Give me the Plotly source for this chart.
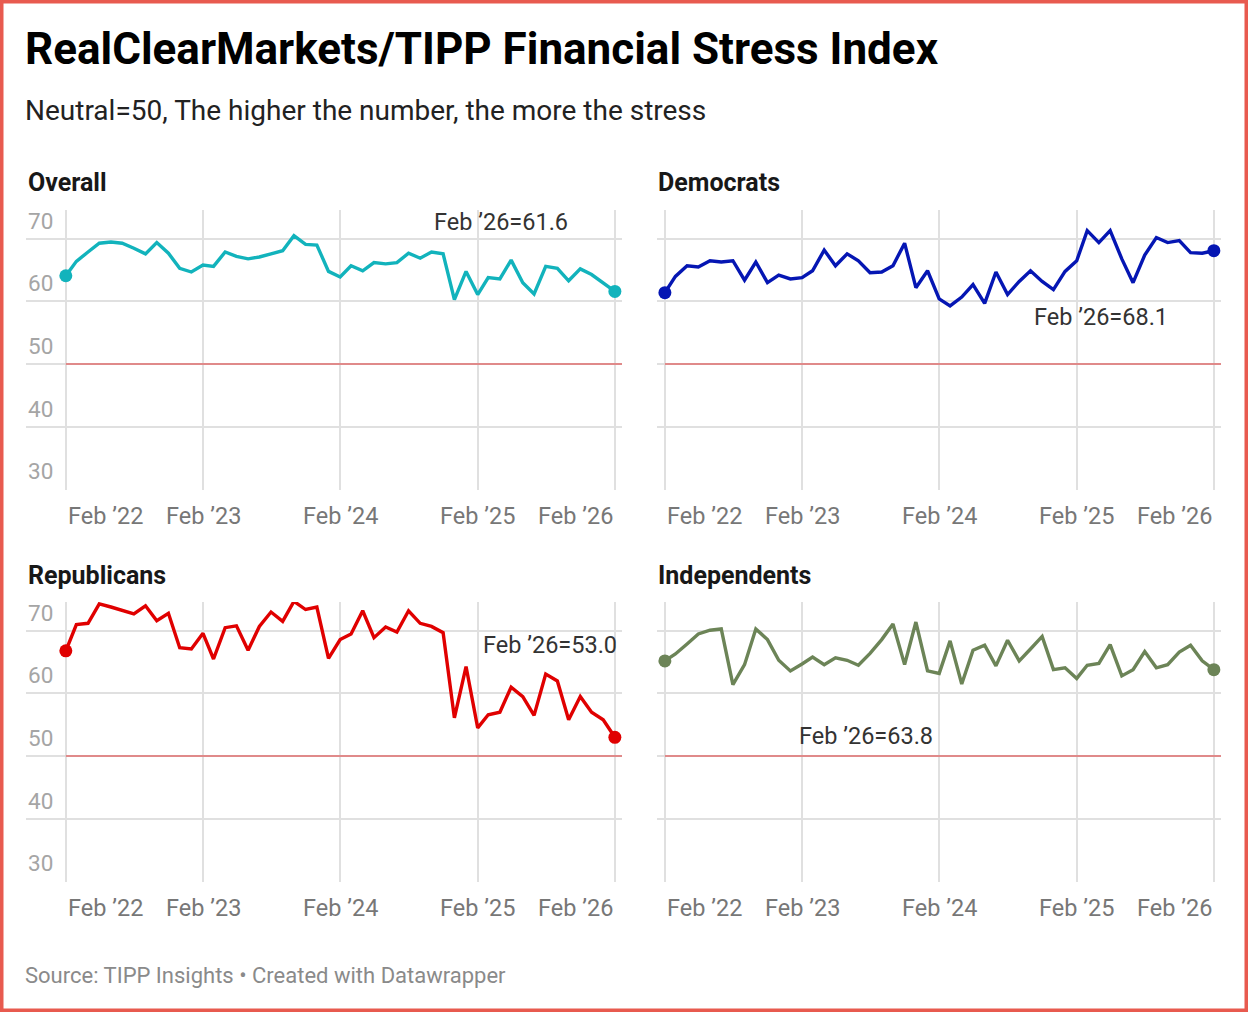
import pandas as pd
import plotly.graph_objects as go

# ---------------- data ----------------
months = pd.date_range("2022-02-01", periods=49, freq="MS")

overall = [64.1, 66.4, 67.9, 69.3, 69.5, 69.3, 68.5, 67.6, 69.4, 67.7,
           65.3, 64.7, 65.8, 65.6, 67.9, 67.2, 66.8, 67.1, 67.6, 68.1,
           70.5, 69.1, 69.0, 64.8, 63.9, 65.7, 64.9, 66.2, 66.0, 66.2,
           67.7, 66.9, 67.9, 67.6, 60.3, 64.8, 61.1, 63.8, 63.6, 66.6,
           63.0, 61.2, 65.6, 65.3, 63.3, 65.2, 64.3, 62.9, 61.6]

democrats = [61.4, 64.0, 65.7, 65.5, 66.5, 66.3, 66.5, 63.4, 66.3, 63.0,
             64.2, 63.6, 63.8, 64.9, 68.2, 65.7, 67.6, 66.5, 64.6, 64.7,
             65.7, 69.3, 62.2, 64.9, 60.4, 59.3, 60.7, 62.7, 59.7, 64.7,
             61.1, 63.2, 64.9, 63.2, 61.9, 64.8, 66.5, 71.3, 69.4, 71.3,
             66.8, 63.0, 67.4, 70.2, 69.4, 69.7, 67.8, 67.7, 68.1]

republicans = [66.8, 71.0, 71.2, 74.3, 73.8, 73.2, 72.7, 74.0, 71.6, 72.8,
               67.3, 67.1, 69.6, 65.5, 70.5, 70.8, 66.9, 70.7, 73.0, 71.5,
               74.7, 73.4, 73.8, 65.6, 68.6, 69.5, 73.2, 68.9, 70.6, 69.8,
               73.2, 71.2, 70.7, 69.7, 56.1, 64.3, 54.5, 56.6, 57.0, 61.0,
               59.5, 56.5, 63.1, 62.0, 55.8, 59.5, 57.0, 55.8, 53.0]

independents = [65.2, 66.3, 67.9, 69.5, 70.1, 70.3, 61.4, 64.6, 70.3, 68.6,
                65.3, 63.6, 64.7, 65.8, 64.6, 65.7, 65.3, 64.5, 66.4, 68.6,
                71.1, 64.6, 71.4, 63.6, 63.2, 68.4, 61.5, 66.9, 67.7, 64.4,
                68.5, 65.2, 67.1, 69.1, 63.8, 64.1, 62.4, 64.5, 64.8, 67.8,
                62.8, 63.8, 66.7, 64.1, 64.6, 66.6, 67.7, 65.2, 63.8]

panel_names = ["Overall", "Democrats", "Republicans", "Independents"]
panel_values = [overall, democrats, republicans, independents]
panel_colors = ["#12b3bc", "#0516b3", "#e00000", "#6c8457"]

y_ticks = [30, 40, 50, 60, 70]
x_tick_dates = ["2022-02-01", "2023-02-01", "2024-02-01", "2025-02-01", "2026-02-01"]
x_tick_labels = ["Feb \u201922", "Feb \u201923", "Feb \u201924", "Feb \u201925", "Feb \u201926"]
neutral = 50

title = "RealClearMarkets/TIPP Financial Stress Index"
subtitle = "Neutral=50, The higher the number, the more the stress"
source = "Source: TIPP Insights \u2022 Created with Datawrapper"

# ---------------- layout helpers ----------------
W, H = 1248, 1012
FONT = "Roboto"


def fx(px):
    return px / W


def fy(py):
    return 1 - py / H


# pixel boxes of each panel's plot area: (left, right, top, bottom)
boxes = [(26, 622, 210, 490), (657, 1221, 210, 490),
         (26, 622, 602, 882), (657, 1221, 602, 882)]
x_ranges = [["2021-10-18", "2026-02-20"], ["2022-01-11", "2026-02-20"],
            ["2021-10-18", "2026-02-20"], ["2022-01-11", "2026-02-20"]]
y_range = [29.9, 74.6]
title_pos = [(26, 183), (656, 183), (26, 575), (656, 575)]
label_pos = [(501, 222), (1101, 317), (550, 645), (866, 736)]

fig = go.Figure()
annotations = []
shapes = []

for i, (name, vals, col) in enumerate(zip(panel_names, panel_values, panel_colors)):
    n = "" if i == 0 else str(i + 1)
    xa, ya = "x" + n, "y" + n
    l, r, t, b = boxes[i]

    fig.add_trace(go.Scatter(x=months, y=vals, mode="lines",
                             line=dict(color=col, width=3.4),
                             xaxis=xa, yaxis=ya, hoverinfo="skip",
                             showlegend=False))
    fig.add_trace(go.Scatter(x=[months[0], months[-1]], y=[vals[0], vals[-1]],
                             mode="markers", marker=dict(color=col, size=13),
                             xaxis=xa, yaxis=ya, hoverinfo="skip",
                             showlegend=False))

    fig.layout["xaxis" + n] = dict(
        domain=[fx(l), fx(r)], range=x_ranges[i], type="date",
        anchor=ya, tickvals=x_tick_dates, showticklabels=False,
        showgrid=True, gridcolor="#e0e0e0", gridwidth=1.5,
        zeroline=False, showline=False, ticks="", fixedrange=True)
    fig.layout["yaxis" + n] = dict(
        domain=[fy(b), fy(t)], range=y_range, anchor=xa,
        tickvals=y_ticks, showticklabels=False,
        showgrid=True, gridcolor="#e0e0e0", gridwidth=1.5,
        zeroline=False, showline=False, ticks="", fixedrange=True)

    # neutral line
    shapes.append(dict(type="line", xref=xa, yref=ya,
                       x0=months[0], x1=x_ranges[i][1], y0=neutral, y1=neutral,
                       line=dict(color="#e08a8a", width=2), layer="above"))

    # y tick labels (left column only)
    if i in (0, 2):
        for v in y_ticks:
            annotations.append(dict(text=str(v), xref=xa + " domain", x=0,
                                    yref=ya, y=v, xanchor="left",
                                    yanchor="middle", yshift=18, showarrow=False,
                                    font=dict(family=FONT, size=22.5, color="#a5a5a5")))
    # x tick labels
    for k, (d, lab) in enumerate(zip(x_tick_dates, x_tick_labels)):
        anchor = "left" if k == 0 else ("right" if k == len(x_tick_dates) - 1 else "center")
        annotations.append(dict(text=lab, xref=xa, x=d, yref=ya + " domain", y=0,
                                xanchor=anchor, yanchor="middle", yshift=-26,
                                showarrow=False,
                                font=dict(family=FONT, size=23.5, color="#777777")))
    # panel title
    tx, ty = title_pos[i]
    annotations.append(dict(text="<b>" + name + "</b>", xref="paper", yref="paper",
                            x=fx(tx), y=fy(ty), xanchor="left", yanchor="middle",
                            showarrow=False,
                            font=dict(family=FONT, size=25, color="#181818")))
    # last value label
    lx, ly = label_pos[i]
    annotations.append(dict(text="Feb \u201926=" + f"{vals[-1]:.1f}",
                            xref="paper", yref="paper", x=fx(lx), y=fy(ly),
                            xanchor="center", yanchor="middle", showarrow=False,
                            font=dict(family=FONT, size=23.5, color="#333333")))

annotations.append(dict(text="<b>" + title + "</b>", xref="paper", yref="paper",
                        x=fx(23), y=fy(49), xanchor="left", yanchor="middle",
                        showarrow=False, font=dict(family=FONT, size=44, color="#000000")))
annotations.append(dict(text=subtitle, xref="paper", yref="paper",
                        x=fx(23), y=fy(110), xanchor="left", yanchor="middle",
                        showarrow=False, font=dict(family=FONT, size=28, color="#222222")))
annotations.append(dict(text=source, xref="paper", yref="paper",
                        x=fx(23), y=fy(975), xanchor="left", yanchor="middle",
                        showarrow=False, font=dict(family=FONT, size=22, color="#8a8a8a")))

# outer border
shapes.append(dict(type="rect", xref="paper", yref="paper", x0=0, x1=1, y0=0, y1=1,
                   line=dict(color="#e85a4f", width=7), layer="above"))

fig.update_layout(width=W, height=H, margin=dict(l=0, r=0, t=0, b=0),
                  paper_bgcolor="white", plot_bgcolor="white",
                  annotations=annotations, shapes=shapes,
                  font=dict(family=FONT), showlegend=False)

fig.write_html("out.html", config={"displayModeBar": False},
               post_script="document.body.style.margin='0';document.body.style.overflow='hidden';")
